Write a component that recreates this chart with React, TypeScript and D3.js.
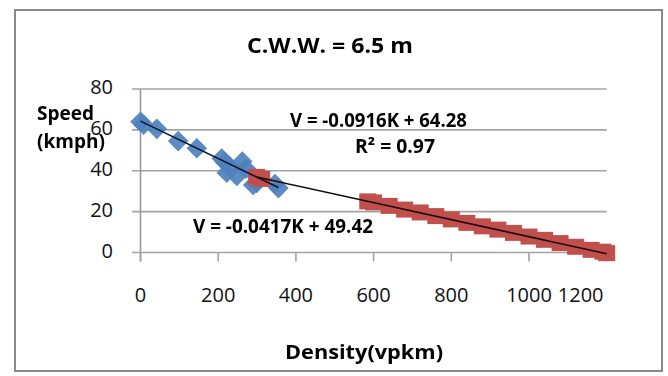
import React from "react";
import * as d3 from "d3";

// series 1 (blue diamonds): density K (vpkm), speed V (kmph)
const blueK = [0, 8, 42, 97, 145, 209, 218, 230, 222, 248, 262, 272, 290, 299, 346, 355];
const blueV = [64, 62.5, 60.5, 54.5, 51, 46, 44, 42, 39, 37.5, 44.5, 41, 33, 34, 33.5, 31.5];

// series 2 (red squares)
const redK = [299, 312, 585, 600, 640, 680, 720, 760, 800, 840, 880, 920, 960, 1000, 1040, 1080, 1120, 1160, 1190, 1200];
const redV = [37, 36, 25, 24.5, 22.8, 21, 19.6, 17.8, 16.2, 14.5, 12.8, 11.2, 9.6, 7.8, 6.2, 4.6, 2.8, 1.3, 0.4, -0.3];

const xTicks = [0, 200, 400, 600, 800, 1000, 1200];
const yTicks = [0, 20, 40, 60, 80];

// fitted trend lines
const blueFit = { slope: -0.0916, intercept: 64.28 };
const redFit = { slope: -0.0417, intercept: 49.42 };

const font = "'Open Sans', 'Liberation Sans', sans-serif";

const App: React.FC = () => {
  const width = 668;
  const height = 376;

  const x = d3.scaleLinear().domain([0, 1200]).range([140.5, 606.7]);
  const y = d3.scaleLinear().domain([0, 80]).range([252.5, 89]);

  const blue = blueK.map((k, i) => ({ k, v: blueV[i] }));
  const red = redK.map((k, i) => ({ k, v: redV[i] }));

  const fitPath = (fit: { slope: number; intercept: number }, ks: number[]) => {
    const [k0, k1] = d3.extent(ks) as [number, number];
    return d3
      .line<number>()
      .x((k) => x(k))
      .y((k) => y(fit.slope * k + fit.intercept))([k0, k1]);
  };

  const diamond = d3.symbol().type(d3.symbolDiamond2).size(270)();

  return (
    <svg
      width={width}
      height={height}
      style={{ position: "absolute", left: 0, top: 0, background: "#fff" }}
      fontFamily={font}
    >
      <defs>
        <filter id="soft" x="-20%" y="-20%" width="140%" height="140%">
          <feGaussianBlur stdDeviation="0.7" />
        </filter>
      </defs>
      <rect x={15} y={10} width={647} height={361} fill="#fff" stroke="#8a8a8a" strokeWidth={2} />

      {/* gridlines */}
      {yTicks.map((t) => (
        <line key={`g${t}`} x1={132} x2={x(1200)} y1={y(t)} y2={y(t)} stroke="#a3a3a3" strokeWidth={1.6} />
      ))}
      {/* y axis */}
      <line x1={x(0)} x2={x(0)} y1={y(80)} y2={y(0) + 9} stroke="#999" strokeWidth={1.6} />
      {/* x ticks */}
      {xTicks.map((t) => (
        <line key={`xt${t}`} x1={x(t)} x2={x(t)} y1={y(0)} y2={y(0) + 9} stroke="#a3a3a3" strokeWidth={1.6} />
      ))}

      {/* tick labels */}
      {yTicks.map((t) => (
        <text key={`yl${t}`} x={113} y={y(t) + 5} textAnchor="end" fontSize={20} fill="#111">
          {t}
        </text>
      ))}
      {xTicks.map((t) => (
        <text
          key={`xl${t}`}
          x={x(t) + (t === 1200 ? -26 : 0)}
          y={302}
          textAnchor="middle"
          fontSize={20}
          fill="#111"
        >
          {t}
        </text>
      ))}

      {/* markers */}
      <g filter="url(#soft)">
        {blue.map((d, i) => (
          <path
            key={`b${i}`}
            d={diamond!}
            transform={`translate(${x(d.k)},${y(d.v)})`}
            fill="#4f81bd"
            fillOpacity={0.92}
          />
        ))}
        {red.map((d, i) => (
          <rect
            key={`r${i}`}
            x={x(d.k) - 8.5}
            y={y(d.v) - 8}
            width={17}
            height={16}
            fill="#c0504d"
          />
        ))}
      </g>

      {/* trend lines */}
      <path d={fitPath(blueFit, blueK)!} fill="none" stroke="#0d1530" strokeWidth={1.6} />
      <path d={fitPath(redFit, redK)!} fill="none" stroke="#1a0a0a" strokeWidth={1.6} />

      {/* texts */}
      <text x={330} y={53} textAnchor="middle" fontSize={21} fontWeight="bold" textLength={166} lengthAdjust="spacingAndGlyphs">
        C.W.W. = 6.5 m
      </text>
      <text x={37} y={120} fontSize={19} fontWeight="bold">Speed</text>
      <text x={37} y={148} fontSize={19} fontWeight="bold">(kmph)</text>
      <text x={290} y={127} fontSize={19} fontWeight="bold" textLength={177} lengthAdjust="spacingAndGlyphs">
        V = -0.0916K + 64.28
      </text>
      <text x={355} y={153} fontSize={19} fontWeight="bold" textLength={80} lengthAdjust="spacingAndGlyphs">
        R² = 0.97
      </text>
      <text x={193} y={233} fontSize={19} fontWeight="bold" textLength={180} lengthAdjust="spacingAndGlyphs">
        V = -0.0417K + 49.42
      </text>
      <text x={364} y={359} textAnchor="middle" fontSize={20} fontWeight="bold" textLength={158} lengthAdjust="spacingAndGlyphs">
        Density(vpkm)
      </text>
    </svg>
  );
};

export default App;
